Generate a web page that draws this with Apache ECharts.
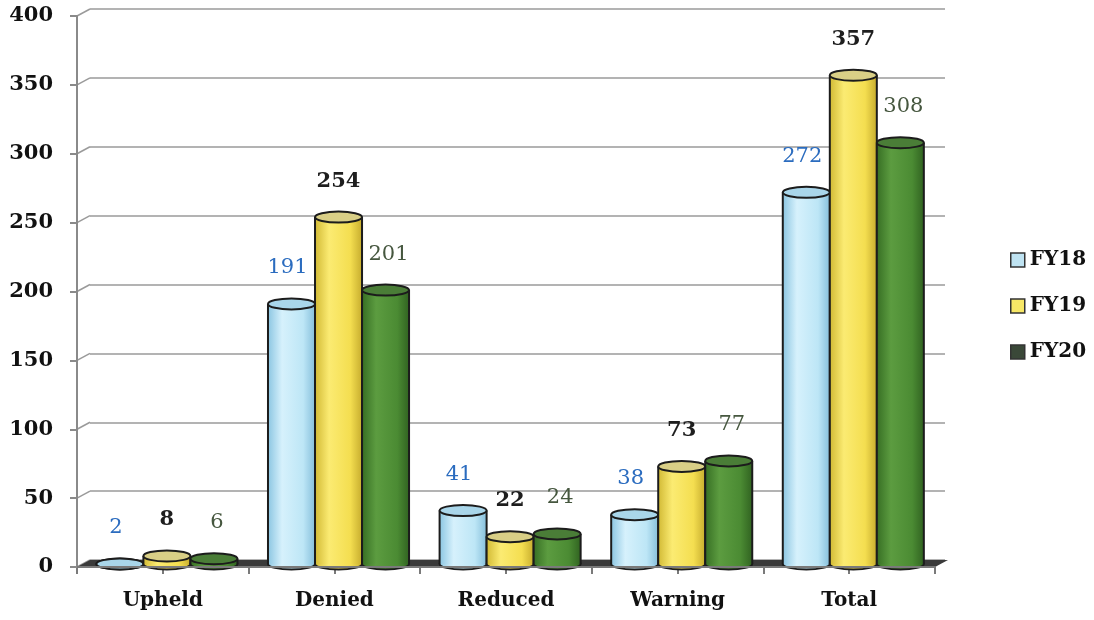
<!DOCTYPE html>
<html>
<head>
<meta charset="utf-8">
<script src="https://cdn.jsdelivr.net/npm/echarts@6/dist/echarts.min.js"></script>
<style>
  html, body { margin: 0; padding: 0; background: #fff; }
  #chart { width: 1094px; height: 620px; }
</style>
</head>
<body>
<div id="chart"></div>
<script>
// Appeal outcomes by fiscal year
const categories = ['Upheld', 'Denied', 'Reduced', 'Warning', 'Total'];
const fy18 = [2, 191, 41, 38, 272];
const fy19 = [8, 254, 22, 73, 357];
const fy20 = [6, 201, 24, 77, 308];
const seriesNames = ['FY18', 'FY19', 'FY20'];
const yMax = 400;
const yStep = 50;

const yTicks = [];
for (let v = 0; v <= yMax; v += yStep) yTicks.push(v);

// Depth of the back wall (px)
const DEPTH_X = 13, DEPTH_Y = -7;

const looks = [
  { // FY18
    stops: ['#8cc6e2', '#d6f1fc', '#bde6f6', '#86bfdb'],
    top: '#a9d6ea', label: '#2b6cbf', weight: 'normal', dx: -4, legend: '#bfe3f2'
  },
  { // FY19
    stops: ['#d2ba35', '#fbeb72', '#f4de50', '#c7ad2e'],
    top: '#d9cf86', label: '#1e1e1e', weight: 'bold', dx: 0, legend: '#f7e766'
  },
  { // FY20
    stops: ['#376f24', '#5c9c40', '#4b8b33', '#316321'],
    top: '#4a7d37', label: '#46573f', weight: 'normal', dx: 3, legend: '#3a4838'
  }
];

function gradient(stops) {
  return new echarts.graphic.LinearGradient(0, 0, 1, 0, [
    { offset: 0, color: stops[0] },
    { offset: 0.3, color: stops[1] },
    { offset: 0.75, color: stops[2] },
    { offset: 1, color: stops[3] }
  ]);
}

function cylinderSeries(name, values, slot) {
  const look = looks[slot];
  return {
    type: 'custom',
    name: name,
    xAxisIndex: 0,
    yAxisIndex: 0,
    silent: true,
    z: 4,
    itemStyle: { color: look.legend },
    data: values.map((v, i) => [i, v]),
    encode: { x: 0, y: 1 },
    renderItem: function (params, api) {
      const i = api.value(0), v = api.value(1);
      const top = api.coord([i, v]);
      const base = api.coord([i, 0]);
      const band = api.size([1, 0])[0];
      const w = band * 0.274;
      const cx = base[0] + (slot - 1) * w + band * 0.024;
      const rx = w / 2, ry = 5.5;
      const yb = base[1] - 3;
      const yt = Math.min(top[1], yb);
      const xl = cx - rx, xr = cx + rx;
      const stroke = '#1c1c1c';
      return {
        type: 'group',
        children: [
          { type: 'ellipse', shape: { cx: cx, cy: yb, rx: rx, ry: ry },
            style: { fill: gradient(look.stops), stroke: stroke, lineWidth: 2 } },
          { type: 'rect', shape: { x: xl, y: yt, width: w, height: yb - yt },
            style: { fill: gradient(look.stops) } },
          { type: 'line', shape: { x1: xl, y1: yt, x2: xl, y2: yb },
            style: { stroke: stroke, lineWidth: 2 } },
          { type: 'line', shape: { x1: xr, y1: yt, x2: xr, y2: yb },
            style: { stroke: stroke, lineWidth: 2 } },
          { type: 'ellipse', shape: { cx: cx, cy: yt, rx: rx, ry: ry },
            style: { fill: look.top, stroke: stroke, lineWidth: 2 } },
          { type: 'text',
            style: { text: String(v), x: cx + look.dx, y: yt - 36,
              align: 'center', verticalAlign: 'middle',
              fontFamily: 'DejaVu Serif', fontWeight: look.weight, fontSize: 21, fill: look.label } }
        ]
      };
    }
  };
}

// Floor slab under the cylinders
const floorSeries = {
  type: 'custom',
  xAxisIndex: 0, yAxisIndex: 0,
  silent: true, z: 2,
  data: [[0, 0]],
  renderItem: function (params, api) {
    const cs = params.coordSys;
    const y0 = api.coord([0, 0])[1];
    const x0 = cs.x, x1 = cs.x + cs.width;
    return {
      type: 'polygon',
      shape: { points: [[x0, y0], [x0 + DEPTH_X, y0 + DEPTH_Y], [x1 + DEPTH_X, y0 + DEPTH_Y], [x1, y0]] },
      style: { fill: '#3a3a3a' }
    };
  }
};

// Short diagonals joining the axis ticks to the back-wall grid lines
const connectorSeries = {
  type: 'custom',
  xAxisIndex: 0, yAxisIndex: 0,
  silent: true, z: 1,
  data: yTicks.map(v => [0, v]),
  renderItem: function (params, api) {
    const cs = params.coordSys;
    const y = api.coord([0, api.value(1)])[1];
    return {
      type: 'line',
      shape: { x1: cs.x, y1: y, x2: cs.x + DEPTH_X, y2: y + DEPTH_Y },
      style: { stroke: '#9a9a9a', lineWidth: 1.5 }
    };
  }
};

const chart = echarts.init(document.getElementById('chart'), null, { renderer: 'canvas' });

const option = {
  animation: false,
  backgroundColor: '#ffffff',
  grid: [
    { left: 77, top: 16, right: 159, bottom: 53 },
    { left: 90, top: 9, right: 149, bottom: 60 }
  ],
  xAxis: [
    {
      type: 'category', gridIndex: 0, data: categories,
      axisLine: { show: true, lineStyle: { color: '#7a7a7a', width: 2 } },
      axisTick: { show: false },
      axisLabel: { fontFamily: 'DejaVu Serif', fontWeight: 'bold', fontSize: 20, color: '#111', margin: 24 },
      z: 5
    },
    {
      type: 'value', gridIndex: 0, min: 0, max: categories.length, interval: 0.5,
      position: 'bottom', offset: 0,
      axisLine: { show: false },
      axisTick: { show: true, length: 7, lineStyle: { color: '#7a7a7a', width: 2 } },
      axisLabel: { show: false },
      splitLine: { show: false }
    },
    { type: 'category', gridIndex: 1, data: categories, show: false }
  ],
  yAxis: [
    {
      type: 'value', gridIndex: 0, min: 0, max: yMax, interval: yStep,
      axisLine: { show: true, lineStyle: { color: '#8a8a8a', width: 2 } },
      axisTick: { show: true, length: 7, lineStyle: { color: '#8a8a8a', width: 2 } },
      splitLine: { show: false },
      axisLabel: { fontFamily: 'DejaVu Serif', fontWeight: 'bold', fontSize: 21, color: '#111', margin: 24 },
      z: 5
    },
    {
      type: 'value', gridIndex: 1, min: 0, max: yMax, interval: yStep,
      axisLine: { show: false }, axisTick: { show: false }, axisLabel: { show: false },
      splitLine: { show: true, lineStyle: { color: '#9a9a9a', width: 1.5 } }
    }
  ],
  legend: {
    orient: 'vertical', left: 1005, top: 245,
    itemWidth: 14, itemHeight: 14, itemGap: 26, icon: 'rect',
    textStyle: { fontFamily: 'DejaVu Serif', fontWeight: 'bold', fontSize: 20, color: '#111' },
    data: seriesNames.map((n, k) => ({
      name: n,
      itemStyle: { color: looks[k].legend, borderColor: '#333', borderWidth: 1.5 }
    }))
  },
  series: [
    floorSeries,
    connectorSeries,
    cylinderSeries(seriesNames[0], fy18, 0),
    cylinderSeries(seriesNames[1], fy19, 1),
    cylinderSeries(seriesNames[2], fy20, 2)
  ]
};

chart.setOption(option);
</script>
</body>
</html>
